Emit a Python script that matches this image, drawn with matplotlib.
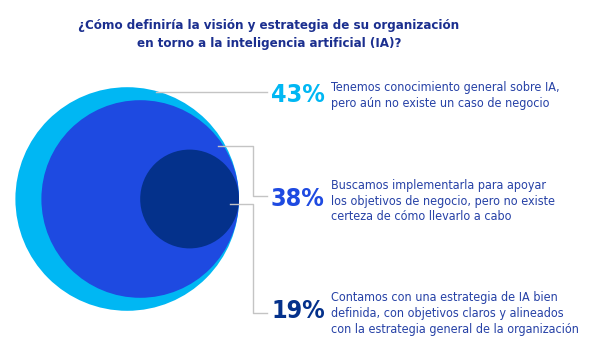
import matplotlib
matplotlib.use("Agg")
from matplotlib import pyplot as plt
from matplotlib.patches import Circle

titulo = "¿Cómo definiría la visión y estrategia de su organización\nen torno a la inteligencia artificial (IA)?"
valores = [43, 38, 19]
etiquetas = ["43%", "38%", "19%"]
textos = [
    "Tenemos conocimiento general sobre IA,\npero aún no existe un caso de negocio",
    "Buscamos implementarla para apoyar\nlos objetivos de negocio, pero no existe\ncerteza de cómo llevarlo a cabo",
    "Contamos con una estrategia de IA bien\ndefinida, con objetivos claros y alineados\ncon la estrategia general de la organización",
]
colores = ["#00b7f3", "#1e4ae1", "#04318b"]

fig = plt.figure(figsize=(6, 3.56), dpi=100)
ax = fig.add_axes([0, 0, 1, 1])
ax.set_xlim(0, 600)
ax.set_ylim(356, 0)
ax.axis("off")

# circulos tangentes por la derecha, radio proporcional al valor
k = 2.6
borde = 239
cy = 199
for v, c in zip(valores, colores):
    r = k * v
    ax.add_patch(Circle((borde - r, cy), r, color=c, lw=0))

# lineas guia
gris = "#c4c4c4"
ax.plot([156, 267], [92, 92], color=gris, lw=1)
ax.plot([218, 253, 253, 267], [146, 146, 196, 196], color=gris, lw=1)
ax.plot([230, 253, 253, 267], [204, 204, 313, 313], color=gris, lw=1)

ax.text(269, 35, titulo, ha="center", va="center", fontsize=9.5,
        fontweight="bold", fontstretch="condensed", color="#1b2f8f",
        linespacing=1.5)

ys_pct = [95, 199, 311]
ys_txt = [95, 201, 313]
for yp, yt, et, tx, c in zip(ys_pct, ys_txt, etiquetas, textos, colores):
    ax.text(271, yp, et, ha="left", va="center", fontsize=18, fontweight="bold",
            fontstretch="condensed", color=c)
    ax.text(331, yt, tx, ha="left", va="center", fontsize=9,
            fontstretch="condensed", color="#2641a6", linespacing=1.3)

fig.savefig("out.png", dpi=100)
